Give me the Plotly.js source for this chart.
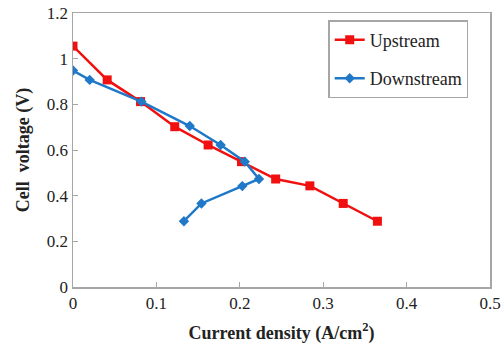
<!DOCTYPE html>
<html>
<head>
<meta charset="utf-8">
<script src="https://cdn.plot.ly/plotly-3.0.1.min.js"></script>
<style>html,body{margin:0;padding:0;background:#fff;} .c{width:504px;height:347px;}</style>
</head>
<body>
<div id="a" class="c"></div>
<script>
var upstreamX = [0, 0.041, 0.081, 0.122, 0.162, 0.202, 0.243, 0.284, 0.324, 0.365];
var upstreamY = [1.055, 0.907, 0.812, 0.702, 0.622, 0.549, 0.473, 0.443, 0.366, 0.288];
var downstreamX = [0, 0.02, 0.082, 0.14, 0.177, 0.206, 0.223, 0.203, 0.154, 0.133];
var downstreamY = [0.948, 0.907, 0.812, 0.705, 0.622, 0.549, 0.473, 0.442, 0.366, 0.288];
var xTicks = [0, 0.1, 0.2, 0.3, 0.4, 0.5];
var xTickLabels = ["0", "0.1", "0.2", "0.3", "0.4", "0.5"];
var yTicks = [0, 0.2, 0.4, 0.6, 0.8, 1, 1.2];
var yTickLabels = ["0", "0.2", "0.4", "0.6", "0.8", "1", "1.2"];

var fam = "Liberation Serif, Times New Roman, Times, serif";
function mkAxis(range, vals, labels, titleText, standoff) {
  return {
    range: range, tickvals: vals, ticktext: labels,
    tickfont: {family: fam, size: 17, color: "#222"},
    showline: true, mirror: true, linecolor: "#a6a6a6", linewidth: 1.5,
    showgrid: false, zeroline: false,
    ticks: "inside", ticklen: 5, tickcolor: "#a6a6a6",
    title: {text: titleText, font: {family: fam, size: 18, color: "#222"}, standoff: standoff}
  };
}
var tr1 = {x: upstreamX, y: upstreamY, name: "Upstream", type: "scatter", mode: "lines+markers", legendgroup: "u",
  line: {color: "#f01010", width: 2.5}, marker: {symbol: "square", size: 9, color: "#f01010"}};
var tr2 = {x: downstreamX, y: downstreamY, name: "Downstream", type: "scatter", mode: "lines+markers", legendgroup: "d",
  line: {color: "#1f78c8", width: 2.5}, marker: {symbol: "diamond", size: 8, color: "#1f78c8"}};
var lay = {
  width: 504, height: 347,
  font: {family: fam, size: 17, color: "#222"},
  margin: {l: 73, r: 14, t: 13, b: 60},
  showlegend: true,
  xaxis: mkAxis([0, 0.5], xTicks, xTickLabels, "<b>Current density (A/cm<sup>2</sup>)</b>", 14),
  yaxis: mkAxis([0, 1.2], yTicks, yTickLabels, "<b>Cell  voltage (V)</b>", 12),
  legend: {x: 0.612, y: 0.974, xanchor: "left", yanchor: "top", bordercolor: "#a6a6a6", borderwidth: 1.5,
    bgcolor: "#fff", font: {family: fam, size: 18, color: "#222"}, traceorder: "grouped", tracegroupgap: 12}
};
Plotly.newPlot("a", [tr1, tr2], lay, {staticPlot: true});
</script>
</body>
</html>
